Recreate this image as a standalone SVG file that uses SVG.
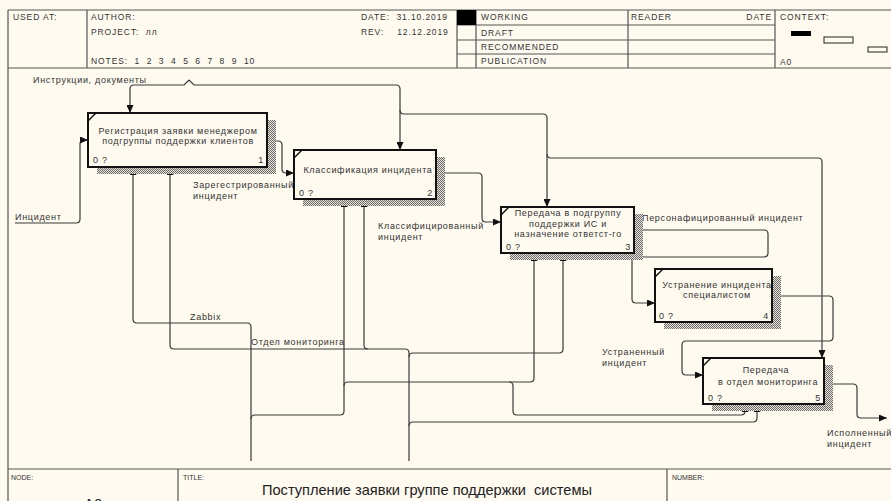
<svg xmlns="http://www.w3.org/2000/svg" width="891" height="501" viewBox="0 0 891 501">
  <defs>
    <pattern id="hatch" width="2" height="2" patternUnits="userSpaceOnUse">
      <rect width="2" height="2" fill="#e4e0d6"/>
      <rect width="1" height="1" fill="#6e6e6e"/>
      <rect x="1" y="1" width="1" height="1" fill="#6e6e6e"/>
    </pattern>
    <marker id="arr" viewBox="0 0 8 7" refX="8" refY="3.5" markerWidth="8" markerHeight="7" markerUnits="userSpaceOnUse" orient="auto">
      <path d="M0,0 L8,3.5 L0,7 z" fill="#111"/>
    </marker>
    <style>
      .frame { stroke: #555; stroke-width: 1.2; fill: none; }
      .hd { font-family: "Liberation Sans", Arial, sans-serif; font-size: 8.5px; letter-spacing: 0.9px; fill: #333; white-space: pre; }
      .ft { font-family: "Liberation Sans", Arial, sans-serif; font-size: 7px; fill: #333; }
      .title { font-family: "Liberation Sans Narrow", "Liberation Sans", Arial, sans-serif; font-size: 15px; fill: #222; white-space: pre; }
      .box { fill: #fffaf0; stroke: #111; stroke-width: 2; }
      .shadow { fill: url(#hatch); }
      .tick { stroke: #111; stroke-width: 1.5; fill: none; }
      .bt { font-family: "Liberation Sans", Arial, sans-serif; font-size: 9px; letter-spacing: 0.7px; fill: #333; }
      .mid { text-anchor: middle; }
      .end { text-anchor: end; }
      .lbl { font-family: "Liberation Sans", Arial, sans-serif; font-size: 9px; letter-spacing: 0.7px; fill: #333; }
      .arc { stroke: #3a3a3a; stroke-width: 1.2; fill: none; }
      .to { marker-end: url(#arr); }
    </style>
  </defs>

  <rect width="891" height="501" fill="#fffaf0"/>

  <!-- header frame -->
  <g id="header">
    <path class="frame" d="M8,10 H891 M8,68 H891 M8,10 V501 M87,10 V68 M457,10 V68 M476,10 V68 M628,10 V68 M775,10 V68 M457,25 H775 M457,40 H775 M457,54 H775"/>
    <rect x="457" y="10" width="19" height="15" fill="#000"/>
    <text class="hd" x="13" y="20">USED AT:</text>
    <text class="hd" x="91" y="20">AUTHOR:</text>
    <text class="hd" x="91" y="35">PROJECT:  лл</text>
    <text class="hd" x="91" y="64">NOTES:  1  2  3  4  5  6  7  8  9  10</text>
    <text class="hd" x="361" y="20">DATE:  31.10.2019</text>
    <text class="hd" x="361" y="35">REV:    12.12.2019</text>
    <text class="hd" x="481" y="20">WORKING</text>
    <text class="hd" x="481" y="36">DRAFT</text>
    <text class="hd" x="481" y="50">RECOMMENDED</text>
    <text class="hd" x="481" y="64">PUBLICATION</text>
    <text class="hd" x="631" y="20">READER</text>
    <text class="hd end" x="772" y="20">DATE</text>
    <text class="hd" x="780" y="20">CONTEXT:</text>
    <rect x="791" y="31" width="20" height="5" fill="#000"/>
    <rect x="824" y="37" width="29" height="6" fill="#fffaf0" stroke="#222" stroke-width="1"/>
    <rect x="868" y="47" width="19" height="5" fill="#fffaf0" stroke="#222" stroke-width="1"/>
    <text class="hd" x="780" y="65">A0</text>
  </g>

  <!-- footer frame -->
  <g id="footer">
    <path class="frame" d="M8,469 H891 M178,469 V501 M667,469 V501"/>
    <text class="ft" x="11" y="480">NODE:</text>
    <text class="ft" x="183" y="480">TITLE:</text>
    <text class="ft" x="672" y="480">NUMBER:</text>
    <text class="title" x="262" y="495" textLength="330" lengthAdjust="spacingAndGlyphs">Поступление заявки группе поддержки  системы</text>
    <text class="title" x="84" y="509" font-size="16">A0</text>
  </g>

  <!-- arrows -->
  <g id="connectors">
    <!-- Инцидент -->
    <path class="arc to" d="M15,223 H76 Q80,223 80,219 V144 Q80,140 84,140 H88"/>
    <!-- Инструкции, документы -->
    <path class="arc to" d="M189,80 L184,85 H134 Q130,85 130,89 V113"/>
    <path class="arc to" d="M189,80 L194,85 H396 Q400,85 400,89 V150"/>
    <path class="arc to" d="M400,110 Q400,114 404,114 H543 Q547,114 547,118 V207"/>
    <path class="arc to" d="M547,154 Q547,158 551,158 H818 Q822,158 822,162 V358"/>
    <!-- Зарегестрированный инцидент -->
    <path class="arc to" d="M267,141 H278 Q282,141 282,145 V169 Q282,173 286,173 H294"/>
    <!-- Классифицированный инцидент -->
    <path class="arc to" d="M436,173 H478 Q482,173 482,177 V218 Q482,222 486,222 H501"/>
    <!-- Персонафицированный инцидент -->
    <path class="arc to" d="M634,230 H764 Q768,230 768,234 V253 Q768,257 764,257 H636 Q632,257 632,261 V299 Q632,303 636,303 H655"/>
    <!-- Устраненный инцидент -->
    <path class="arc to" d="M772,296 H829 Q833,296 833,300 V337 Q833,341 829,341 H686 Q682,341 682,345 V371 Q682,375 686,375 H703"/>
    <!-- Исполненный инцидент -->
    <path class="arc to" d="M824,384 H853 Q857,384 857,388 V414 Q857,418 861,418 H887"/>
    <!-- Zabbix -->
    <path class="arc to" d="M251,461 V327 Q251,323 247,323 H137 Q133,323 133,319 V167"/>
    <path class="arc to" d="M251,419 Q251,415 255,415 H340 Q344,415 344,411 V199"/>
    <path class="arc to" d="M344,386 Q344,382 348,382 H530 Q534,382 534,378 V253"/>
    <path class="arc to" d="M509,382 Q513,382 513,386 V411 Q513,415 517,415 H741 Q745,415 745,411 V404"/>
    <!-- Отдел мониторинга -->
    <path class="arc to" d="M409,461 V353 Q409,349 405,349 H174 Q170,349 170,345 V167"/>
    <path class="arc to" d="M368,349 Q364,349 364,345 V199"/>
    <path class="arc to" d="M409,357 Q409,353 413,353 H559 Q563,353 563,349 V253"/>
    <path class="arc to" d="M409,426 Q409,422 413,422 H753 Q757,422 757,418 V404"/>

    <text class="lbl" x="33" y="83">Инструкции, документы</text>
    <text class="lbl" x="15" y="220">Инцидент</text>
    <text class="lbl" x="193" y="188">Зарегестрированный</text>
    <text class="lbl" x="193" y="199">инцидент</text>
    <text class="lbl" x="378" y="229">Классифицированный</text>
    <text class="lbl" x="378" y="240">инцидент</text>
    <text class="lbl" x="642" y="221">Персонафицированный инцидент</text>
    <text class="lbl" x="190" y="320">Zabbix</text>
    <text class="lbl" x="251" y="345">Отдел мониторинга</text>
    <text class="lbl" x="602" y="355">Устраненный</text>
    <text class="lbl" x="602" y="366">инцидент</text>
    <text class="lbl" x="827" y="436">Исполненный</text>
    <text class="lbl" x="827" y="447">инцидент</text>
  </g>

  <!-- activity boxes -->
  <g id="node-1">
    <rect class="shadow" x="97" y="120" width="179" height="54"/>
    <rect class="box" x="88" y="113" width="179" height="54"/>
    <path class="tick" d="M88,121 L96,113"/>
    <text class="bt mid" x="178" y="134">Регистрация заявки менеджером</text>
    <text class="bt mid" x="178" y="144">подгруппы поддержки клиентов</text>
    <text class="bt" x="93" y="163">0 ?</text>
    <text class="bt end" x="264" y="163">1</text>
  </g>
  <g id="node-2">
    <rect class="shadow" x="303" y="157" width="142" height="49"/>
    <rect class="box" x="294" y="150" width="142" height="49"/>
    <path class="tick" d="M294,158 L302,150"/>
    <text class="bt mid" x="368" y="173">Классификация инцидента</text>
    <text class="bt" x="299" y="196">0 ?</text>
    <text class="bt end" x="433" y="196">2</text>
  </g>
  <g id="node-3">
    <rect class="shadow" x="510" y="214" width="133" height="46"/>
    <rect class="box" x="501" y="207" width="133" height="46"/>
    <path class="tick" d="M501,215 L509,207"/>
    <text class="bt mid" x="568" y="216">Передача в подгруппу</text>
    <text class="bt mid" x="568" y="227">поддержки ИС и</text>
    <text class="bt mid" x="568" y="237">назначение ответст-го</text>
    <text class="bt" x="506" y="250">0 ?</text>
    <text class="bt end" x="631" y="250">3</text>
  </g>
  <g id="node-4">
    <rect class="shadow" x="664" y="276" width="117" height="53"/>
    <rect class="box" x="655" y="269" width="117" height="53"/>
    <path class="tick" d="M655,277 L663,269"/>
    <text class="bt mid" x="717" y="288">Устранение инцидента</text>
    <text class="bt mid" x="717" y="298">специалистом</text>
    <text class="bt" x="659" y="319">0 ?</text>
    <text class="bt end" x="769" y="319">4</text>
  </g>
  <g id="node-5">
    <rect class="shadow" x="712" y="365" width="121" height="46"/>
    <rect class="box" x="703" y="358" width="121" height="46"/>
    <path class="tick" d="M703,366 L711,358"/>
    <text class="bt mid" x="766" y="373">Передача</text>
    <text class="bt mid" x="768" y="385">в отдел мониторинга</text>
    <text class="bt" x="708" y="401">0 ?</text>
    <text class="bt end" x="821" y="401">5</text>
  </g>
</svg>
